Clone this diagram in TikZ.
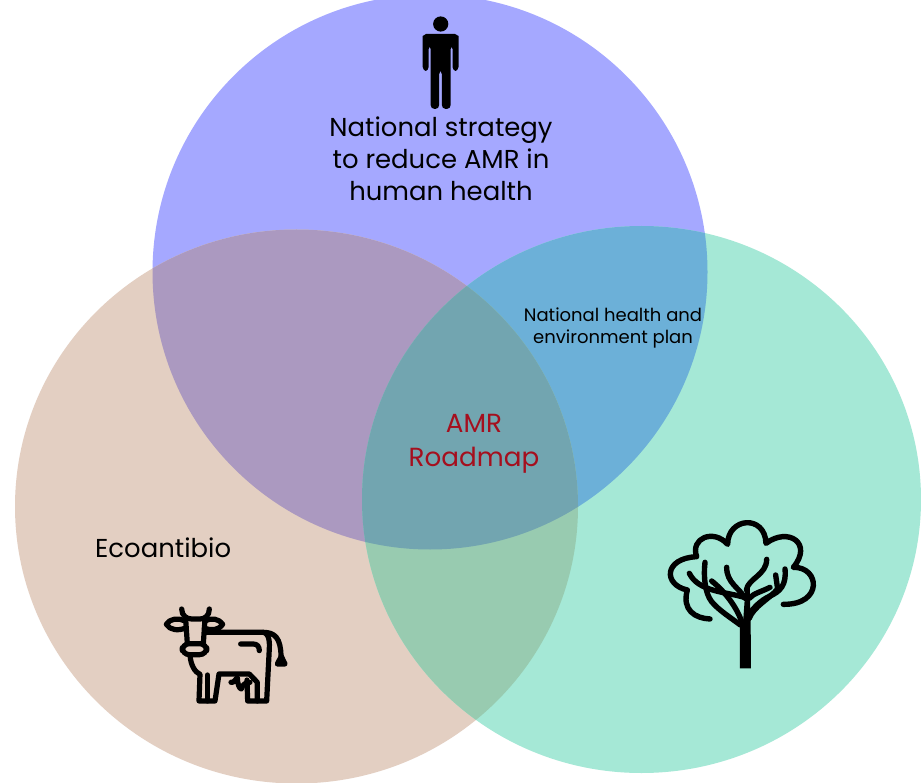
\documentclass[tikz,border=0pt]{standalone}
\usepackage{fontspec}
\setmainfont{Poppins}
\definecolor{humanc}{HTML}{A5A8FF}
\definecolor{animalc}{HTML}{E3CFC2}
\definecolor{envc}{HTML}{A5E8D6}
\definecolor{hac}{HTML}{AB99C0}
\definecolor{hec}{HTML}{6CB0D8}
\definecolor{aec}{HTML}{98CBB0}
\definecolor{allc}{HTML}{72A5B0}
\definecolor{roadc}{HTML}{A50F1E}
\tikzset{
  biglabel/.style={font=\fontsize{25.9}{32}\selectfont,align=center,inner sep=0pt},
  roadlabel/.style={font=\fontsize{26.2}{34}\selectfont,align=center,inner sep=0pt,text=roadc},
  smalllabel/.style={font=\fontsize{18}{22}\selectfont,align=center,inner sep=0pt},
  iconline/.style={draw=black,line width=5.2pt,line cap=round,line join=round},
  treeline/.style={draw=black,line width=5.4pt,line cap=round,line join=round},
}
\newcommand{\humanshape}{(430,272) ellipse [x radius=277.5,y radius=277.5]}
\newcommand{\animalshape}{(296.5,506.5) ellipse [x radius=281.5,y radius=277]}
\newcommand{\envshape}{(641.5,499.5) ellipse [x radius=279.5,y radius=273.5]}
\begin{document}
\begin{tikzpicture}[x=1pt,y=-1pt]
\useasboundingbox[fill=white] (0,0) rectangle (921,783);
\clip (0,0) rectangle (921,783);
\fill[humanc] \humanshape;
\fill[animalc] \animalshape;
\fill[envc] \envshape;
\begin{scope}\clip \humanshape; \fill[hac] \animalshape; \fill[hec] \envshape;\end{scope}
\begin{scope}\clip \animalshape; \fill[aec] \envshape;\end{scope}
\begin{scope}\clip \humanshape; \clip \animalshape; \fill[allc] \envshape;\end{scope}

% person
\fill[black] (440.7,24) circle (7.6);
\fill[black,rounded corners=4pt] (422.7,71) -- (422.7,40) .. controls (422.7,36) and (426,34) .. (430,34) -- (451,34) .. controls (455,34) and (458.5,36) .. (458.5,40) -- (458.5,71) -- (452.5,71) -- (452.5,45) -- (450.7,45) -- (450.7,109) -- (441.8,109) -- (441.8,70) -- (439.2,70) -- (439.2,109) -- (430.6,109) -- (430.6,45) -- (428.7,45) -- (428.7,71) -- cycle;

% cow
\begin{scope}[shift={(150,595)},x=.3333pt,y=-.3333pt]
\draw[iconline] (95,42) .. controls (95,62) and (110,72) .. (125,72) -- (150,72) .. controls (165,72) and (178,62) .. (178,42);
\draw[iconline] (105,78) .. controls (85,68) and (60,70) .. (49,88) .. controls (60,106) and (85,108) .. (107,99);
\draw[iconline] (165,78) .. controls (185,68) and (205,70) .. (218,88) .. controls (205,106) and (185,108) .. (163,99);
\draw[iconline] (107,72) -- (112,146);
\draw[iconline] (165,72) -- (160,146);
\draw[iconline,rounded corners=7pt] (97,146) rectangle (170,179);
\draw[iconline] (168,112) -- (340,112) .. controls (352,112) and (360,130) .. (358,160) -- (350,318) -- (293,318) -- (291,255);
\draw[iconline] (340,112) .. controls (375,112) and (392,130) .. (393,182);
\draw[iconline,fill=black] (382,207) -- (405,207) -- (394,184) -- cycle;
\draw[iconline] (272,147) -- (310,147) .. controls (322,147) and (328,155) .. (328,167);
\draw[iconline] (120,180) .. controls (122,210) and (135,232) .. (150,238) -- (147,318) -- (195,318) -- (207,237) -- (298,237) -- (322,262) -- (322,318);
\draw[iconline] (172,240) -- (172,318);
\draw[iconline] (243,262) .. controls (252,265) and (258,250) .. (262,248) .. controls (262,265) and (268,282) .. (274,282) .. controls (278,270) and (285,262) .. (300,262);
\end{scope}

% tree
\begin{scope}[shift={(655,510)},x=.3333pt,y=-.3333pt]
\draw[treeline] (165,327) .. controls (120,325) and (80,300) .. (97,240) .. controls (25,225) and (25,145) .. (125,140) .. controls (105,85) and (175,55) .. (218,103) .. controls (218,22) and (330,12) .. (333,100) .. controls (400,50) and (475,100) .. (415,172) .. controls (495,170) and (505,285) .. (385,283);
\fill[black] (255,475) -- (288,475) -- (287,340) -- (284,225) -- (272,228) -- (264,340) -- (255,350) -- cycle;
\draw[treeline] (335,148) .. controls (335,195) and (280,205) .. (274,240);
\draw[treeline] (215,172) .. controls (215,220) and (255,235) .. (270,265);
\draw[treeline] (103,190) .. controls (130,245) and (210,245) .. (268,262);
\draw[treeline] (150,157) .. controls (145,200) and (150,250) .. (170,275) .. controls (190,300) and (230,325) .. (256,345);
\draw[treeline] (170,213) .. controls (210,245) and (245,290) .. (262,340);
\draw[treeline] (345,232) .. controls (320,245) and (295,250) .. (283,265);
\draw[treeline] (283,325) .. controls (295,290) and (345,265) .. (368,237) -- (362,195);
\draw[treeline] (390,177) .. controls (395,225) and (375,245) .. (345,258) .. controls (315,272) and (295,295) .. (285,310);
\end{scope}

\node[biglabel] (humanlabel) at (441,159) {National strategy\\to reduce AMR in\\human health};
\node[smalllabel] (envlabel) at (613,328) {National health and\\environment plan};
\node[roadlabel] (roadmap) at (474,444) {AMR\\Roadmap};
\node[biglabel,anchor=west] (ecolabel) at (95,548) {Ecoantibio};
\end{tikzpicture}
\end{document}
